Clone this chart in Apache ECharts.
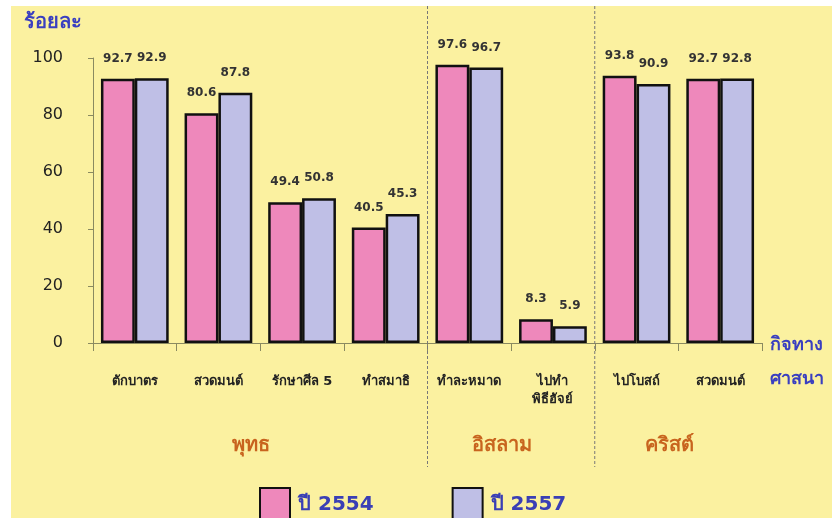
<!DOCTYPE html>
<html><head><meta charset="utf-8">
<script src="https://cdn.jsdelivr.net/npm/echarts@6/dist/echarts.min.js"></script>
<style>html,body{margin:0;padding:0;background:#fff}#c{width:832px;height:518px}</style>
</head><body><div id="c"></div>
<script>
const categories = ['ตักบาตร', 'สวดมนต์', 'รักษาศีล 5', 'ทำสมาธิ', 'ทำละหมาด', 'ไปทำ\nพิธีฮัจย์', 'ไปโบสถ์', 'สวดมนต์'];
const year2554 = [92.7, 80.6, 49.4, 40.5, 97.6, 8.3, 93.8, 92.7];
const year2557 = [92.9, 87.8, 50.8, 45.3, 96.7, 5.9, 90.9, 92.8];
const seriesNames = ['ปี 2554', 'ปี 2557'];
const groupNames = ['พุทธ', 'อิสลาม', 'คริสต์'];
const groupStart = [0, 4, 6];
const groupEnd = [3, 5, 7];
const yMin = 0, yMax = 100, yStep = 20;

const FONT = 'Tahoma, "DejaVu Sans", sans-serif';
const chart = echarts.init(document.getElementById('c'), null, {renderer: 'canvas'});

const labelStyle = {show: true, position: 'top', distance: 14, fontSize: 12, fontWeight: 'bold', color: '#333', fontFamily: FONT};

chart.setOption({
  backgroundColor: '#ffffff',
  animation: false,
  grid: {left: 93, right: 70, top: 58, bottom: 175},
  legend: {
    left: 254, top: 482, itemWidth: 30, itemHeight: 33, itemGap: 78, icon: 'rect',
    textStyle: {fontSize: 20, fontWeight: 'bold', color: '#3a3fb5', fontFamily: FONT, padding: [0, 0, 0, 3]},
    data: seriesNames
  },
  xAxis: {
    type: 'category', data: categories,
    axisLine: {lineStyle: {color: '#8a8a60', width: 1}},
    axisTick: {show: true, length: 8, lineStyle: {color: '#8a8a60'}},
    axisLabel: {margin: 30, fontSize: 13, fontWeight: 'bold', color: '#222', fontFamily: FONT, interval: 0, lineHeight: 18}
  },
  yAxis: {
    type: 'value', min: yMin, max: yMax, interval: yStep,
    name: 'ร้อยละ', nameGap: 25,
    nameTextStyle: {align: 'right', padding: [0, 11, 0, 0], fontSize: 20, fontWeight: 'bold', color: '#3a3fc0', fontFamily: FONT},
    axisLine: {show: true, lineStyle: {color: '#8a8a60'}},
    axisTick: {show: true, length: 5, lineStyle: {color: '#8a8a60'}},
    splitLine: {show: false},
    axisLabel: {margin: 30, fontSize: 16, color: '#222', fontFamily: FONT}
  },
  series: [
    {name: seriesNames[0], type: 'bar', data: year2554, barGap: '0%', barCategoryGap: '19%',
     itemStyle: {color: '#ee88bb', borderColor: '#111', borderWidth: 2.5}, label: labelStyle},
    {name: seriesNames[1], type: 'bar', data: year2557,
     itemStyle: {color: '#bfbfe6', borderColor: '#111', borderWidth: 2.5}, label: labelStyle}
  ]
});

function drawExtras() {
  const x = i => chart.convertToPixel({xAxisIndex: 0}, i);
  const step = x(1) - x(0);
  const y0 = chart.convertToPixel({yAxisIndex: 0}, 0);
  const xEnd = x(categories.length - 1) + step / 2;
  const els = [
    {type: 'rect', z: -10, silent: true, shape: {x: 11, y: 6, width: 832 - 11, height: 518 - 6}, style: {fill: '#fbf1a0'}}
  ];
  for (let g = 1; g < groupStart.length; g++) {
    const bx = x(groupStart[g]) - step / 2;
    els.push({type: 'line', silent: true, z: 1, shape: {x1: bx, y1: 6, x2: bx, y2: 467},
      style: {stroke: '#777', lineWidth: 1, lineDash: [3, 2]}});
  }
  for (let g = 0; g < groupNames.length; g++) {
    const cx = (x(groupStart[g]) + x(groupEnd[g])) / 2 - 9;
    els.push({type: 'text', silent: true, z: 5, x: cx, y: 446,
      style: {text: groupNames[g], fontSize: 20, fontWeight: 'bold', fill: '#c8641e', fontFamily: FONT, align: 'center', verticalAlign: 'middle'}});
  }
  els.push({type: 'text', silent: true, z: 5, x: xEnd + 8, y: y0 + 2,
    style: {text: 'กิจทาง', fontSize: 18, fontWeight: 'bold', fill: '#3a3fc0', fontFamily: FONT, align: 'left', verticalAlign: 'middle'}});
  els.push({type: 'text', silent: true, z: 5, x: xEnd + 8, y: y0 + 36,
    style: {text: 'ศาสนา', fontSize: 18, fontWeight: 'bold', fill: '#3a3fc0', fontFamily: FONT, align: 'left', verticalAlign: 'middle'}});
  chart.setOption({graphic: {elements: els}});
}
drawExtras();
</script>
</body></html>
